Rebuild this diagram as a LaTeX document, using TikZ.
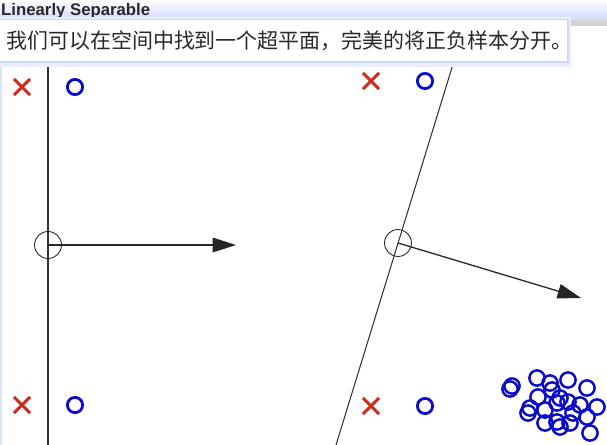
\documentclass[tikz,border=0pt]{standalone}
\usepackage{fontspec}
\newfontfamily\cjkfont{Noto Sans CJK SC}
\newfontfamily\uifont{Liberation Sans}
\usetikzlibrary{arrows.meta,positioning,calc,shapes.misc}

\definecolor{negred}{RGB}{205,45,30}
\definecolor{posblue}{RGB}{10,10,200}
\definecolor{planegray}{RGB}{50,50,50}
\definecolor{glowblue}{RGB}{205,215,250}
\definecolor{textgray}{RGB}{40,40,45}

\tikzset{
  negsample/.style={cross out, draw=negred, line width=2.7pt, minimum size=11pt, inner sep=0pt},
  possample/.style={circle, draw=posblue, line width=2.4pt, minimum size=13pt, inner sep=0pt},
  origin/.style={circle, draw=planegray, line width=0.8pt, minimum size=23pt, inner sep=0pt},
  plane/.style={draw=planegray, line width=1.1pt},
  normal/.style={draw=black!85, line width=1.1pt, -{Triangle[length=20pt,width=12.5pt]}},
}

\begin{document}
\begin{tikzpicture}[x=0.03cm, y=-0.03cm]
    \useasboundingbox (0,0) rectangle (607,445);

    % the window header
    \shade[top color=white, bottom color=glowblue] (0,0) rectangle (607,21);
    \fill[gray!35] (560,20) rectangle (607,26);
    \fill[glowblue!70] (0,60) rectangle (2,445);
    \node[anchor=west, inner sep=0pt, text=textgray, font=\uifont\bfseries\fontsize{14.3}{16}\selectfont] (title) at (1,11) {Linearly Separable};

    % left plane
    \coordinate (ltop) at (48,61);
    \coordinate (lbot) at (48,445);
    \draw[plane] (ltop) -- (lbot);
    \node[origin] (lorig) at (48,245) {};
    \coordinate (lw) at (236,245);
    \draw[normal] (lorig.center) -- (lw);

    \node[negsample] (lneg1) at (22,87) {};
    \node[possample] (lpos1) at (75,87) {};
    \node[negsample] (lneg2) at (22,405) {};
    \node[possample] (lpos2) at (75,405) {};

    % right plane
    \coordinate (rtop) at (454,61);
    \coordinate (rbot) at (336,445);
    \draw[plane, line width=0.9pt] (rtop) -- (rbot);
    \node[origin] (rorig) at (398,243) {};
    \coordinate (rw) at (581,298);
    \draw[normal] (rorig.center) -- (rw);

    \node[negsample] (rneg1) at (371,81) {};
    \node[possample] (rpos1) at (425,81) {};
    \node[negsample] (rneg2) at (371,406) {};
    \node[possample] (rpos2) at (425,406) {};

    % the cluster of positive samples
    \foreach \x/\y [count=\i] in {512/386, 510/389, 537/378, 550/383, 568/380, 587/388,
        552/390, 538/397, 560/398, 557/403, 530/408, 528/413, 545/410, 580/405,
        597/407, 573/413, 587/417, 545/423, 557/422, 570/423, 560/427, 590/433, 568/402}
        \node[possample, line width=2.1pt] (clu\i) at (\x,\y) {};

    % the tooltip
    \fill[glowblue!45] (0,17) rectangle (571,67);
    \fill[glowblue] (0,19) rectangle (569,63);
    \fill[white] (0,20) rectangle (567,61);
    \node[anchor=west, inner sep=0pt, text=textgray, font=\cjkfont\fontsize{17.9}{19}\selectfont] (msg) at (6,41) {我们可以在空间中找到一个超平面，完美的将正负样本分开。};
\end{tikzpicture}
\end{document}
